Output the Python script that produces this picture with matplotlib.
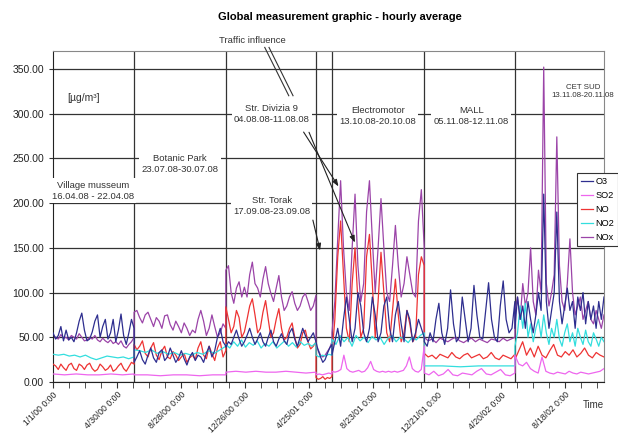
import numpy as np
import matplotlib.pyplot as plt

plt.rcParams['font.family'] = ['Liberation Sans', 'DejaVu Sans']

# segment borders, days since 1/1/00 (one measurement campaign per segment)
seg_edges = [0, 152, 324, 493, 523, 696, 866, 1033]

tick_days = [0, 120, 240, 360, 480, 600, 720, 840, 960]
tick_labels = ['1/1/00 0:00', '4/30/00 0:00', '8/28/00 0:00', '12/26/00 0:00',
               '4/25/01 0:00', '8/23/01 0:00', '12/21/01 0:00', '4/20/02 0:00',
               '8/18/02 0:00']

# hourly averages, one list per campaign
o3 = [
    [55, 48, 52, 62, 46, 58, 47, 50, 45, 55, 68, 77, 58, 46, 48, 56, 68, 75, 50, 62,
     70, 48, 55, 70, 45, 58, 76, 52, 42, 55, 70, 60],
    [22, 28, 35, 25, 20, 30, 38, 27, 22, 33, 36, 24, 28, 38, 30, 22, 27, 35, 26, 19,
     28, 33, 24, 30, 28, 22, 32, 40, 28, 35, 50, 60, 45, 40],
    [39, 45, 42, 50, 58, 48, 40, 45, 52, 60, 50, 42, 48, 55, 45, 40, 50, 58, 45, 40,
     48, 54, 46, 42, 55, 60, 48, 40, 50, 60, 52, 45, 50, 55, 45],
    [45, 35, 28, 22, 25, 32, 38, 42],
    [30, 45, 60, 40, 70, 95, 70, 45, 60, 100, 85, 55, 45, 60, 95, 75, 45, 55, 85, 95,
     60, 45, 75, 90, 65, 45, 80, 70, 45, 55, 70, 60, 50],
    [45, 40, 55, 45, 70, 88, 55, 42, 60, 103, 65, 45, 50, 95, 70, 45, 60, 108, 75, 50,
     48, 80, 111, 70, 50, 45, 85, 113, 70, 55, 60, 90],
    [60, 95, 70, 85, 60, 90, 70, 55, 75, 100, 80, 210, 90, 60, 80, 100, 190, 90, 65, 85,
     105, 80, 90, 60, 95, 80, 100, 65, 90, 70, 85, 60, 90, 70, 95],
]
so2 = [
    [9, 8, 9, 8, 8, 9, 8, 9],
    [8, 8, 7, 8, 8, 7, 8, 8],
    [11, 12, 11, 12, 11, 11, 12, 11, 10, 11],
    [8, 9, 8, 9, 10, 9],
    [12, 11, 12, 14, 30, 15, 12, 11, 12, 13, 11, 12, 16, 23, 14, 12, 11, 12, 11, 12,
     11, 12, 11, 12, 13, 18, 28, 15, 12, 11, 14, 40],
    [10, 8, 12, 7, 9, 14, 8, 7, 10, 9, 8, 12, 15, 9, 8, 11, 14, 8, 7, 10],
    [30, 20, 18, 22, 15, 12, 10, 28, 12, 10, 9, 11, 10, 9, 12, 10, 9, 11, 10, 9,
     10, 11, 12, 15],
]
no = [
    [20, 18, 14, 20, 16, 13, 19, 21, 15, 13, 20, 18, 14, 19, 21, 15, 12, 14, 20, 17,
     13, 15, 19, 12, 14, 18, 21, 15, 12, 17, 22, 20],
    [42, 36, 40, 46, 32, 28, 38, 44, 30, 25, 35, 40, 28, 26, 34, 30, 24, 28, 32, 22,
     27, 30, 25, 38, 45, 30, 26, 40, 32, 24, 38, 45, 28, 35],
    [84, 70, 55, 62, 80, 72, 50, 56, 70, 85, 93, 75, 55, 60, 78, 91, 70, 50, 55, 70,
     82, 60, 47, 50, 60, 66, 50, 38, 42, 55, 58, 45, 37, 40, 45],
    [5, 3, 4, 6, 3, 5, 4, 6],
    [30, 70, 140, 180, 120, 60, 45, 110, 150, 90, 50, 60, 140, 165, 110, 50, 90, 145,
     100, 55, 45, 80, 115, 75, 45, 55, 80, 65, 45, 50, 120, 140, 130],
    [32, 28, 30, 26, 31, 29, 27, 33, 28, 26, 30, 32, 27, 29, 31, 26, 28, 33, 27, 25,
     30, 28, 26, 31],
    [25, 35, 45, 30, 38, 28, 40, 30, 27, 35, 42, 30, 28, 34, 30, 36, 28, 32, 38, 30,
     27, 33, 30, 28],
]
no2 = [
    [31, 30, 31, 29, 30, 28, 30, 27, 25, 27, 29, 28, 27, 28, 26, 28],
    [36, 35, 33, 36, 32, 34, 31, 33, 30, 32, 30, 33, 31, 35, 32, 36, 40],
    [42, 38, 45, 40, 47, 39, 44, 41, 46, 38, 43, 40, 45, 38, 42, 46, 40, 44, 39, 45,
     41, 43, 40, 44],
    [30, 28, 30, 29, 31, 30],
    [48, 42, 52, 45, 50, 40, 52, 46, 50, 44, 51, 47, 50, 42, 49, 52, 45, 50, 48, 44,
     50, 47, 52, 55],
    [18, 18, 17, 18, 18, 18],
    [40, 55, 85, 60, 88, 50, 65, 45, 60, 70, 50, 75, 55, 42, 60, 50, 70, 48, 40, 55,
     65, 45, 55, 40, 60, 50, 42, 58, 45, 40, 55, 48, 40, 50, 45],
]
nox = [
    [52, 50, 48, 53, 49, 50, 47, 52, 50, 48, 54, 50, 46, 47, 50, 48, 52, 47, 45, 49,
     46, 44, 47, 43, 45, 42, 46, 40, 38, 42, 45, 50],
    [78, 80, 72, 66, 75, 78, 70, 62, 72, 68, 60, 74, 75, 64, 58, 68, 62, 55, 66, 60,
     52, 58, 55, 70, 80, 68, 52, 60, 75, 62, 50, 55, 65, 60],
    [125, 130, 100, 88, 105, 112, 95, 106, 95, 120, 134, 110, 105, 95, 115, 129, 110,
     99, 90, 105, 119, 95, 80, 85, 95, 101, 88, 80, 85, 95, 99, 90, 80, 85, 97],
    [40, 36, 30, 28, 30, 34, 38, 45],
    [55, 90, 160, 225, 150, 100, 80, 150, 210, 130, 90, 110, 190, 225, 160, 100, 150,
     205, 150, 100, 90, 130, 175, 130, 95, 110, 140, 120, 100, 95, 180, 215, 150],
    [50, 46, 48, 44, 49, 47, 45, 48, 50, 46, 44, 47, 49, 45, 48, 46, 44, 48, 47, 45,
     49, 46, 48, 50],
    [80, 95, 70, 110, 85, 100, 150, 90, 75, 125, 100, 352, 110, 85, 100, 120, 274, 130,
     90, 80, 110, 160, 100, 75, 85, 95, 70, 80, 90, 70, 65, 80, 70, 60, 75],
]

series = [('O3', o3, '#2e2e8f', 5), ('SO2', so2, '#ee66ee', 4), ('NO', no, '#ee3333', 3),
          ('NO2', no2, '#33dede', 3.5), ('NOx', nox, '#9b44a8', 2)]


def seg_x(vals):
    xs = [np.linspace(seg_edges[i], seg_edges[i + 1], len(v)) for i, v in enumerate(vals)]
    return np.concatenate(xs)


fig = plt.figure(figsize=(6.18, 4.34), dpi=100)
ax = fig.add_axes([0.0858, 0.1198, 0.8915, 0.7627])

for name, vals, col, z in series:
    ax.plot(seg_x(vals), np.concatenate(vals), color=col, lw=0.9, label=name, zorder=z)

ax.set_xlim(0, 1033)
ax.set_ylim(0, 370)
ax.set_axisbelow(True)
ax.set_yticks(np.arange(0, 351, 50))
ax.set_yticklabels(['%.2f' % v for v in np.arange(0, 351, 50)], fontsize=7.5, color='#222222')
ax.yaxis.grid(True, color='#333333', lw=0.9)
for e in seg_edges[1:-1]:
    ax.axvline(e, color='#333333', lw=0.9, zorder=1)

ax.set_xticks(tick_days)
ax.set_xticklabels(tick_labels, rotation=45, ha='right', rotation_mode='anchor',
                   fontsize=6.2, color='#222222')
ax.set_xticks(np.arange(0, 1033, 30), minor=True)
ax.tick_params(axis='x', which='both', length=4, pad=2, color='#333333')
ax.tick_params(axis='y', length=3, color='#333333')
for s in ['top', 'right']:
    ax.spines[s].set_color('#888888')
for s in ['left', 'bottom']:
    ax.spines[s].set_color('#222222')

box = dict(facecolor='white', edgecolor='none', pad=1.5)
txt = dict(fontsize=6.8, color='#333333', ha='center', va='center', zorder=6,
           linespacing=1.3)
ax.text(58, 318, '[µg/m³]', fontsize=7.5, color='#333333', ha='center', va='center')
ax.text(75, 214, 'Village musseum\n16.04.08 - 22.04.08', bbox=box, **txt)
ax.text(238, 244, 'Botanic Park\n23.07.08-30.07.08', bbox=box, **txt)
ax.text(410, 300, 'Str. Divizia 9\n04.08.08-11.08.08', bbox=box, **txt)
ax.text(410, 197, 'Str. Torak\n17.09.08-23.09.08', bbox=box, **txt)
ax.text(609, 297, 'Electromotor\n13.10.08-20.10.08', bbox=box, **txt)
ax.text(784, 297, 'MALL\n05.11.08-12.11.08', bbox=box, **txt)
ax.text(994, 325, 'CET SUD\n13.11.08-20.11.08', fontsize=5.7, color='#333333',
        ha='center', va='center', linespacing=1.3)
ax.text(373, 382, 'Traffic influence', fontsize=6.8, color='#333333', ha='center',
        va='center')

# pointer lines
for x0, x1 in [(397, 442), (405, 450)]:
    ax.plot([x0, x1], [374, 320], color='#333333', lw=0.8, clip_on=False, zorder=7)
arrow = dict(arrowstyle='-|>,head_length=0.4,head_width=0.15', color='#222222', lw=0.8)
ax.annotate('', xy=(538, 216), xytext=(467, 282), arrowprops=arrow, zorder=7)
ax.annotate('', xy=(568, 153), xytext=(478, 282), arrowprops=arrow, zorder=7)
ax.annotate('', xy=(502, 144), xytext=(486, 184), arrowprops=arrow, zorder=7)

# legend box runs past the right figure edge, as in the original
leg = fig.legend(loc='upper left', bbox_to_anchor=(0.934, 0.601), borderaxespad=0,
                 fontsize=6.6, handlelength=1.3, handletextpad=0.3, labelspacing=0.55,
                 borderpad=0.4, fancybox=False, framealpha=1, edgecolor='#333333')
leg.get_frame().set_linewidth(0.8)

fig.text(0.55, 0.96, 'Global measurement graphic - hourly average', fontsize=8,
         fontweight='bold', ha='center', va='center')
fig.text(0.978, 0.067, 'Time', fontsize=7, color='#333333', ha='right', va='center')

fig.savefig('out.png', dpi=100)
